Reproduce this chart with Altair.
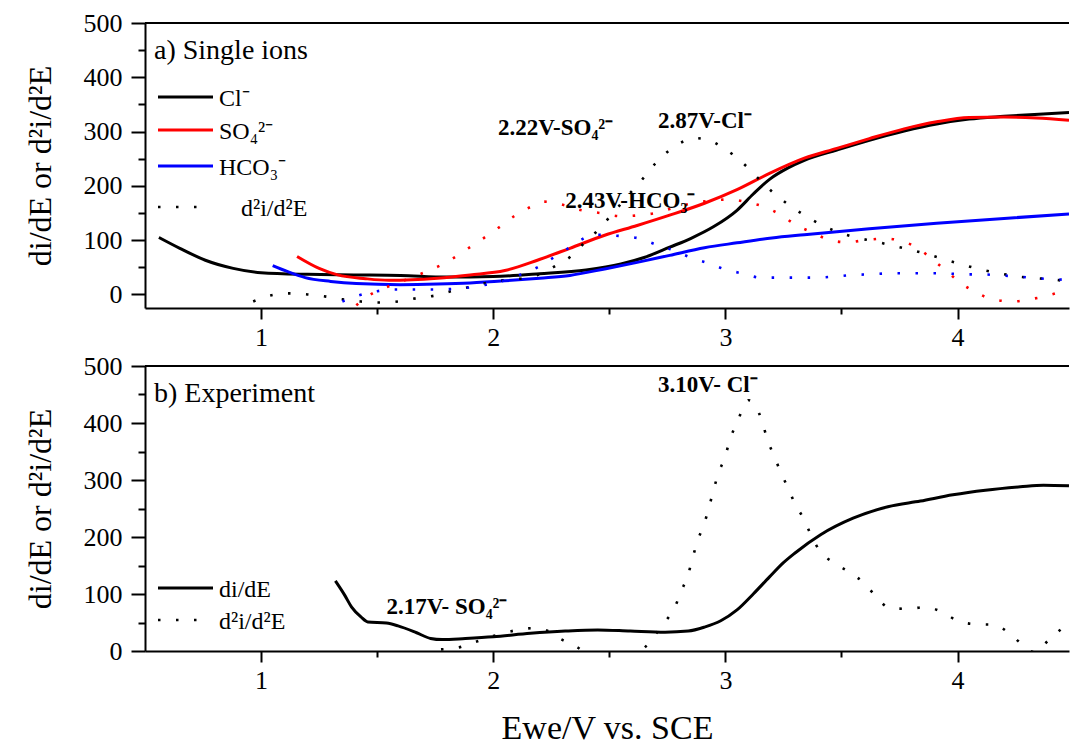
import altair as alt
import pandas as pd

FONT = "Liberation Serif"

# ---------------- panel a) single ions: first derivative di/dE ----------------
cl_E = [0.56, 0.65, 0.76, 0.88, 1.0, 1.2, 1.4, 1.6, 1.8, 2.0, 2.2, 2.4, 2.55, 2.65,
        2.76, 2.85, 2.95, 3.05, 3.12, 3.19, 3.27, 3.34, 3.48, 3.62, 3.77, 3.91,
        4.05, 4.2, 4.35, 4.48]
cl_di = [105, 85, 63, 48, 40, 37, 36, 35, 32, 33, 38, 45, 56, 68,
         87, 103, 125, 155, 185, 212, 233, 247, 266, 284, 301, 314,
         323, 328, 332, 335]

so4_E = [1.155, 1.25, 1.33, 1.45, 1.55, 1.65, 1.76, 1.9, 2.05, 2.19, 2.33, 2.48,
         2.62, 2.76, 2.91, 3.05, 3.19, 3.34, 3.48, 3.62, 3.77, 3.91, 4.05, 4.2,
         4.34, 4.48]
so4_di = [70, 48, 36, 29, 26, 27, 30, 36, 44, 63, 85, 109,
          127, 146, 168, 193, 223, 251, 269, 287, 305, 318, 326, 327,
          325, 321]

hco3_E = [1.05, 1.12, 1.19, 1.3, 1.41, 1.6, 1.76, 1.9, 2.05, 2.2, 2.33, 2.48,
          2.62, 2.76, 2.91, 3.05, 3.2, 3.34, 3.62, 3.91, 4.2, 4.48]
hco3_di = [53, 41, 31, 24, 20, 18, 19, 21, 25, 30, 35, 47,
           59, 72, 86, 95, 104, 110, 121, 131, 140, 148]

# ---------------- panel a) second derivative d2i/d2E ----------------
cl_d2_E = [0.966, 1.04, 1.12, 1.2, 1.28, 1.35, 1.43, 1.51, 1.59, 1.67, 1.75, 1.82,
           1.9, 1.98, 2.06, 2.13, 2.21, 2.27, 2.34, 2.39, 2.45, 2.5, 2.58, 2.65,
           2.7, 2.76, 2.82, 2.87, 2.93, 2.98, 3.04, 3.1, 3.15, 3.21, 3.27, 3.34,
           3.41, 3.49, 3.56, 3.64, 3.72, 3.79, 3.87, 3.94, 4.02, 4.1, 4.18, 4.26,
           4.34, 4.42, 4.46]
cl_d2 = [-13, -2, 2, 0, -4, -9, -13, -15, -13, -7, -2, 6,
         14, 22, 27, 30, 39, 53, 72, 94, 118, 142, 182, 216,
         242, 266, 282, 288, 284, 273, 255, 232, 210, 186, 166, 146,
         129, 114, 105, 98, 90, 83, 74, 65, 55, 46, 39, 33,
         30, 27, 25]

so4_d2_E = [1.41, 1.48, 1.55, 1.63, 1.7, 1.77, 1.84, 1.9, 1.97, 2.03, 2.09, 2.16,
            2.22, 2.3, 2.38, 2.46, 2.55, 2.63, 2.71, 2.78, 2.86, 2.94, 3.02, 3.09,
            3.17, 3.24, 3.3, 3.38, 3.45, 3.53, 3.6, 3.69, 3.76, 3.83, 3.89, 3.95,
            4.01, 4.08, 4.15, 4.24, 4.31, 4.39, 4.46]
so4_d2 = [-20, 2, 15, 28, 40, 53, 70, 87, 107, 125, 144, 161,
          171, 165, 155, 150, 144, 146, 151, 160, 168, 173, 175, 170,
          161, 146, 129, 113, 100, 96, 100, 103, 98, 85, 65, 44,
          22, 4, -9, -13, -9, -2, 7]

hco3_d2_E = [1.35, 1.42, 1.5, 1.58, 1.66, 1.74, 1.82, 1.9, 1.97, 2.05, 2.12, 2.19,
             2.26, 2.33, 2.38, 2.43, 2.5, 2.56, 2.63, 2.7, 2.78, 2.85, 2.93, 3.0,
             3.08, 3.15, 3.24, 3.31, 3.39, 3.47, 3.55, 3.63, 3.71, 3.79, 3.86, 3.94,
             4.02, 4.1, 4.18, 4.26, 4.34, 4.41, 4.46]
hco3_d2 = [-13, -2, 6, 9, 9, 9, 10, 13, 18, 26, 37, 50,
           68, 87, 101, 110, 109, 107, 103, 92, 81, 68, 57, 46,
           38, 31, 31, 31, 31, 33, 36, 37, 39, 39, 39, 39,
           37, 37, 35, 33, 30, 28, 27]

# ---------------- panel b) experiment ----------------
exp_E = [1.32, 1.36, 1.39, 1.43, 1.46, 1.54, 1.59, 1.67, 1.73, 1.78, 1.88, 2.0,
         2.16, 2.31, 2.45, 2.59, 2.74, 2.84, 2.91, 2.98, 3.05, 3.12, 3.19, 3.25,
         3.3, 3.41, 3.55, 3.7, 3.84, 3.98, 4.12, 4.27, 4.37, 4.48]
exp_di = [123, 98, 77, 60, 51, 49, 44, 32, 22, 20, 22, 25,
          31, 35, 37, 35, 33, 35, 42, 53, 72, 100, 130, 155,
          172, 204, 233, 253, 263, 274, 282, 288, 291, 290]

exp_d2_E = [1.7, 1.76, 1.84, 1.91, 1.99, 2.06, 2.17, 2.23, 2.29, 2.36, 2.42, 2.5,
            2.57, 2.64, 2.69, 2.74, 2.78, 2.81, 2.84, 2.86, 2.88, 2.91, 2.93, 2.95,
            2.97, 3.0, 3.02, 3.05, 3.08, 3.1, 3.13, 3.16, 3.18, 3.21, 3.24, 3.27,
            3.3, 3.34, 3.37, 3.41, 3.47, 3.54, 3.6, 3.65, 3.71, 3.79, 3.86, 3.94,
            4.0, 4.08, 4.16, 4.22, 4.28, 4.33, 4.39, 4.45]
exp_d2 = [-5, 2, 5, 14, 25, 33, 40, 36, 21, 7, -8, -12,
          -6, 2, 25, 51, 75, 105, 135, 165, 193, 225, 253, 284,
          312, 342, 372, 400, 430, 440, 430, 400, 372, 342, 312, 286,
          258, 230, 202, 174, 154, 137, 118, 95, 75, 74, 77, 67,
          53, 47, 46, 32, 11, -2, 18, 40]

# ---------------- labels ----------------
ions = ["Cl⁻", "SO₄²⁻", "HCO₃⁻"]
ion_colors = ["#000000", "#ff0000", "#0000ff"]

peak_a_text = ["2.22V-SO₄²⁻", "2.87V-Cl⁻", "2.43V-HCO₃⁻"]
peak_a_E = [2.02, 2.71, 2.31]
peak_a_val = [307, 320, 172]

peak_b_text = ["3.10V- Cl⁻", "2.17V- SO₄²⁻"]
peak_b_E = [2.71, 1.54]
peak_b_val = [467, 78]

x_title = "Ewe/V vs. SCE"
y_title = "di/dE or d²i/d²E"

W, H = 924, 285
DOTS = [2.5, 15.5]


def frame(pairs):
    rows = []
    for name, xs, ys in pairs:
        rows += [{"ion": name, "E": x, "val": y} for x, y in zip(xs, ys)]
    return pd.DataFrame(rows)


def x_enc(title):
    return alt.X(
        "E:Q",
        scale=alt.Scale(domain=[0.5, 4.48], nice=False, zero=False),
        axis=alt.Axis(
            title=title,
            values=[1, 1.5, 2, 2.5, 3, 3.5, 4],
            labelExpr="datum.value % 1 === 0 ? format(datum.value, 'd') : ''",
            tickSize={"condition": {"test": "datum.value % 1 !== 0", "value": 6}, "value": 11},
            labelPadding=5,
            titlePadding=18,
            titleFont=FONT,
            titleFontSize=34,
            grid=False,
        ),
    )


def y_enc(lo):
    return alt.Y(
        "val:Q",
        scale=alt.Scale(domain=[lo, 500], nice=False, zero=False),
        axis=alt.Axis(
            title=y_title,
            values=list(range(0, 501, 50)),
            labelExpr="datum.value % 100 === 0 ? format(datum.value, 'd') : ''",
            tickSize={"condition": {"test": "datum.value % 100 !== 0", "value": 7}, "value": 14},
            labelPadding=9,
            titlePadding=26,
            titleFont=FONT,
            titleFontSize=32,
            grid=False,
        ),
    )


color_scale = alt.Scale(domain=ions, range=ion_colors)


def legend_item(y, label, color, dotted, text_x):
    line = alt.Chart(pd.DataFrame({"k": [0]})).mark_rule(
        color=color, strokeWidth=2.6 if dotted else 3,
        strokeDash=DOTS if dotted else [1, 0], strokeCap="butt",
    ).encode(x=alt.value(13), x2=alt.value(68 if not dotted else 55), y=alt.value(y))
    text = alt.Chart(pd.DataFrame({"k": [0]})).mark_text(
        text=label, align="left", baseline="middle", font=FONT, fontSize=24, color="black",
    ).encode(x=alt.value(text_x), y=alt.value(y + 2))
    return [line, text]


def panel(solid_df, dotted_df, lo, xtitle, title_text, ann, legend):
    x = x_enc(xtitle)
    y = y_enc(lo)
    border = alt.Chart(pd.DataFrame({"val": [500]})).mark_rule(
        color="black", strokeWidth=2
    ).encode(y=y)
    solid = alt.Chart(solid_df).mark_line(
        strokeWidth=3, interpolate="monotone", clip=True
    ).encode(x=x, y=y, color=alt.Color("ion:N", scale=color_scale, legend=None), detail="ion:N")
    dotted = alt.Chart(dotted_df).mark_line(
        strokeWidth=2.6, strokeDash=DOTS, strokeCap="butt", interpolate="monotone", clip=True
    ).encode(x=x, y=y, color=alt.Color("ion:N", scale=color_scale, legend=None), detail="ion:N")
    notes = alt.Chart(ann).mark_text(
        align="left", baseline="middle", font=FONT, fontSize=23, fontWeight="bold", color="black"
    ).encode(x=x, y=y, text="t:N")
    ptitle = alt.Chart(pd.DataFrame({"k": [0]})).mark_text(
        text=title_text, align="left", baseline="middle", font=FONT, fontSize=28, color="black"
    ).encode(x=alt.value(9), y=alt.value(28))
    layers = [border, solid, dotted, notes, ptitle] + legend
    return alt.layer(*layers).properties(width=W, height=H)


top_solid = frame([(ions[0], cl_E, cl_di), (ions[1], so4_E, so4_di), (ions[2], hco3_E, hco3_di)])
top_dotted = frame([(ions[0], cl_d2_E, cl_d2), (ions[1], so4_d2_E, so4_d2), (ions[2], hco3_d2_E, hco3_d2)])
top_ann = pd.DataFrame({"E": peak_a_E, "val": peak_a_val, "t": peak_a_text})

top_legend = (
    legend_item(74, "Cl⁻", "#000000", False, 74)
    + legend_item(107, "SO₄²⁻", "#ff0000", False, 74)
    + legend_item(143, "HCO₃⁻", "#0000ff", False, 74)
    + legend_item(184, "d²i/d²E", "#000000", True, 96)
)

bot_solid = frame([(ions[0], exp_E, exp_di)])
bot_dotted = frame([(ions[0], exp_d2_E, exp_d2)])
bot_ann = pd.DataFrame({"E": peak_b_E, "val": peak_b_val, "t": peak_b_text})

bot_legend = (
    legend_item(222, "di/dE", "#000000", False, 74)
    + legend_item(254, "d²i/d²E", "#000000", True, 74)
)

top = panel(top_solid, top_dotted, -25, None, "a) Single ions", top_ann, top_legend)
bottom = panel(bot_solid, bot_dotted, 0, x_title, "b) Experiment", bot_ann, bot_legend)

chart = alt.vconcat(top, bottom, spacing=58, bounds="flush").properties(
    padding={"left": 24, "top": 10, "right": 0, "bottom": 0}
).configure_view(stroke=None).configure_axis(
    domainColor="black", domainWidth=2, tickColor="black", tickWidth=2,
    labelFont=FONT, labelFontSize=26, labelColor="black",
    titleFont=FONT, titleFontWeight="normal", titleColor="black",
)

chart.save("out.html", embed_options={"renderer": "svg", "actions": False})
